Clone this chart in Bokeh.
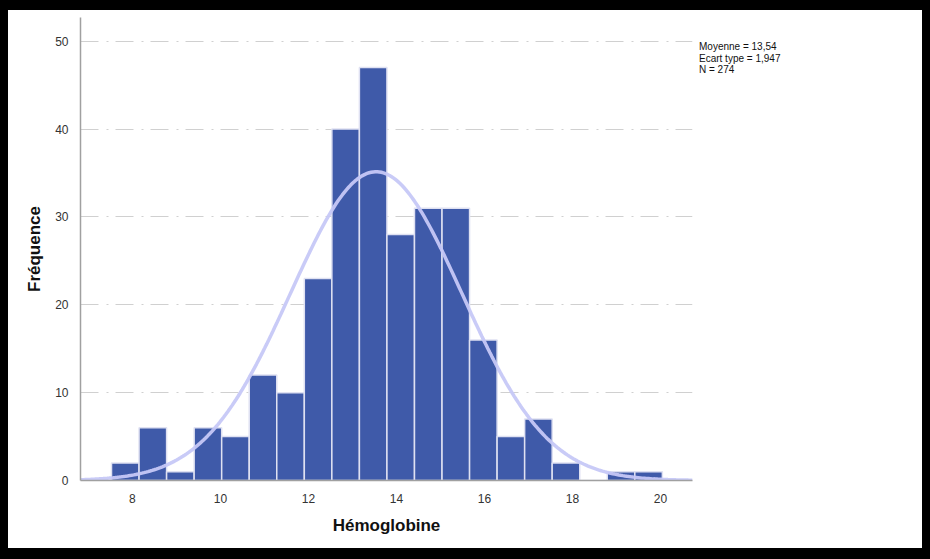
import numpy as np
from bokeh.plotting import figure
from bokeh.models import FixedTicker, Div
from bokeh.layouts import column, row
from bokeh.embed import file_html
from bokeh.resources import INLINE

# ---- data ----
bin_start = 7.525
bin_width = 0.626
counts = [2, 6, 1, 6, 5, 12, 10, 23, 40, 47, 28, 31, 31, 16, 5, 7, 2, 0, 1, 1]
mean_val = 13.54
sd_val = 1.947
n_val = 274
x_ticks = [8, 10, 12, 14, 16, 18, 20]
y_ticks = [0, 10, 20, 30, 40, 50]
stats_lines = ["Moyenne = 13,54", "Ecart type = 1,947", "N = 274"]
x_label = "Hémoglobine"
y_label = "Fréquence"

x_lo, x_hi = 6.82, 20.73
y_lo, y_hi = 0, 52.7

edges = bin_start + bin_width * np.arange(len(counts) + 1)

FONT = "Liberation Sans"

p = figure(width=686, height=538, x_range=(x_lo, x_hi), y_range=(y_lo, y_hi),
           output_backend="svg", toolbar_location=None, tools="",
           min_border_left=72, min_border_right=2, min_border_top=7, min_border_bottom=68)
p.outline_line_color = None
p.background_fill_color = "white"
p.border_fill_color = "white"

p.quad(left=edges[:-1], right=edges[1:], bottom=0, top=counts,
       fill_color="#3f5aa9", line_color="#dfe1f2", line_width=1.5)

xs = np.linspace(x_lo, x_hi, 300)
ys = n_val * bin_width / (sd_val * np.sqrt(2 * np.pi)) * np.exp(-(xs - mean_val) ** 2 / (2 * sd_val ** 2))
p.line(xs, ys, line_color="#c6c8f7", line_width=3.5, line_alpha=0.95)

# axes
for ax in (p.xaxis[0], p.yaxis[0]):
    ax.axis_line_color = "#a0a0a0"
    ax.axis_line_width = 1.5
    ax.major_tick_line_color = None
    ax.minor_tick_line_color = None
    ax.major_label_text_font = FONT
    ax.major_label_text_font_size = "12px"
    ax.major_label_text_color = "#333333"
    ax.axis_label_text_font = FONT
    ax.axis_label_text_font_style = "bold"
    ax.axis_label_text_font_size = "17px"
    ax.axis_label_text_color = "#111111"

p.xaxis.ticker = FixedTicker(ticks=x_ticks)
p.yaxis.ticker = FixedTicker(ticks=y_ticks)
p.xaxis.axis_label = x_label
p.yaxis.axis_label = y_label
p.xaxis.major_label_standoff = 7
p.yaxis.major_label_standoff = 6
p.xaxis.axis_label_standoff = 10
p.yaxis.axis_label_standoff = 8

p.xgrid.grid_line_color = None
p.ygrid.ticker = FixedTicker(ticks=[10, 20, 30, 40, 50])
p.ygrid.grid_line_color = "#d0d0d0"
p.ygrid.grid_line_width = 1
p.ygrid.grid_line_dash = "18 8 2 7"

div = Div(text="<br>".join(stats_lines), width=228, height=538,
          styles={"font-family": FONT, "font-size": "10px", "line-height": "11.5px",
                  "color": "#111111", "padding-top": "26px", "padding-left": "0px",
                  "box-sizing": "border-box", "background-color": "white"})

inner = row(p, div, width=914, height=538,
            styles={"background-color": "white", "width": "914px", "height": "538px",
                    "overflow": "hidden"})
layout = column(inner, width=930, height=559,
                styles={"background-color": "#000000", "padding": "10px 8px 11px 8px",
                        "box-sizing": "border-box", "width": "930px", "height": "559px"})

open("out.html", "w").write(file_html(layout, INLINE))
